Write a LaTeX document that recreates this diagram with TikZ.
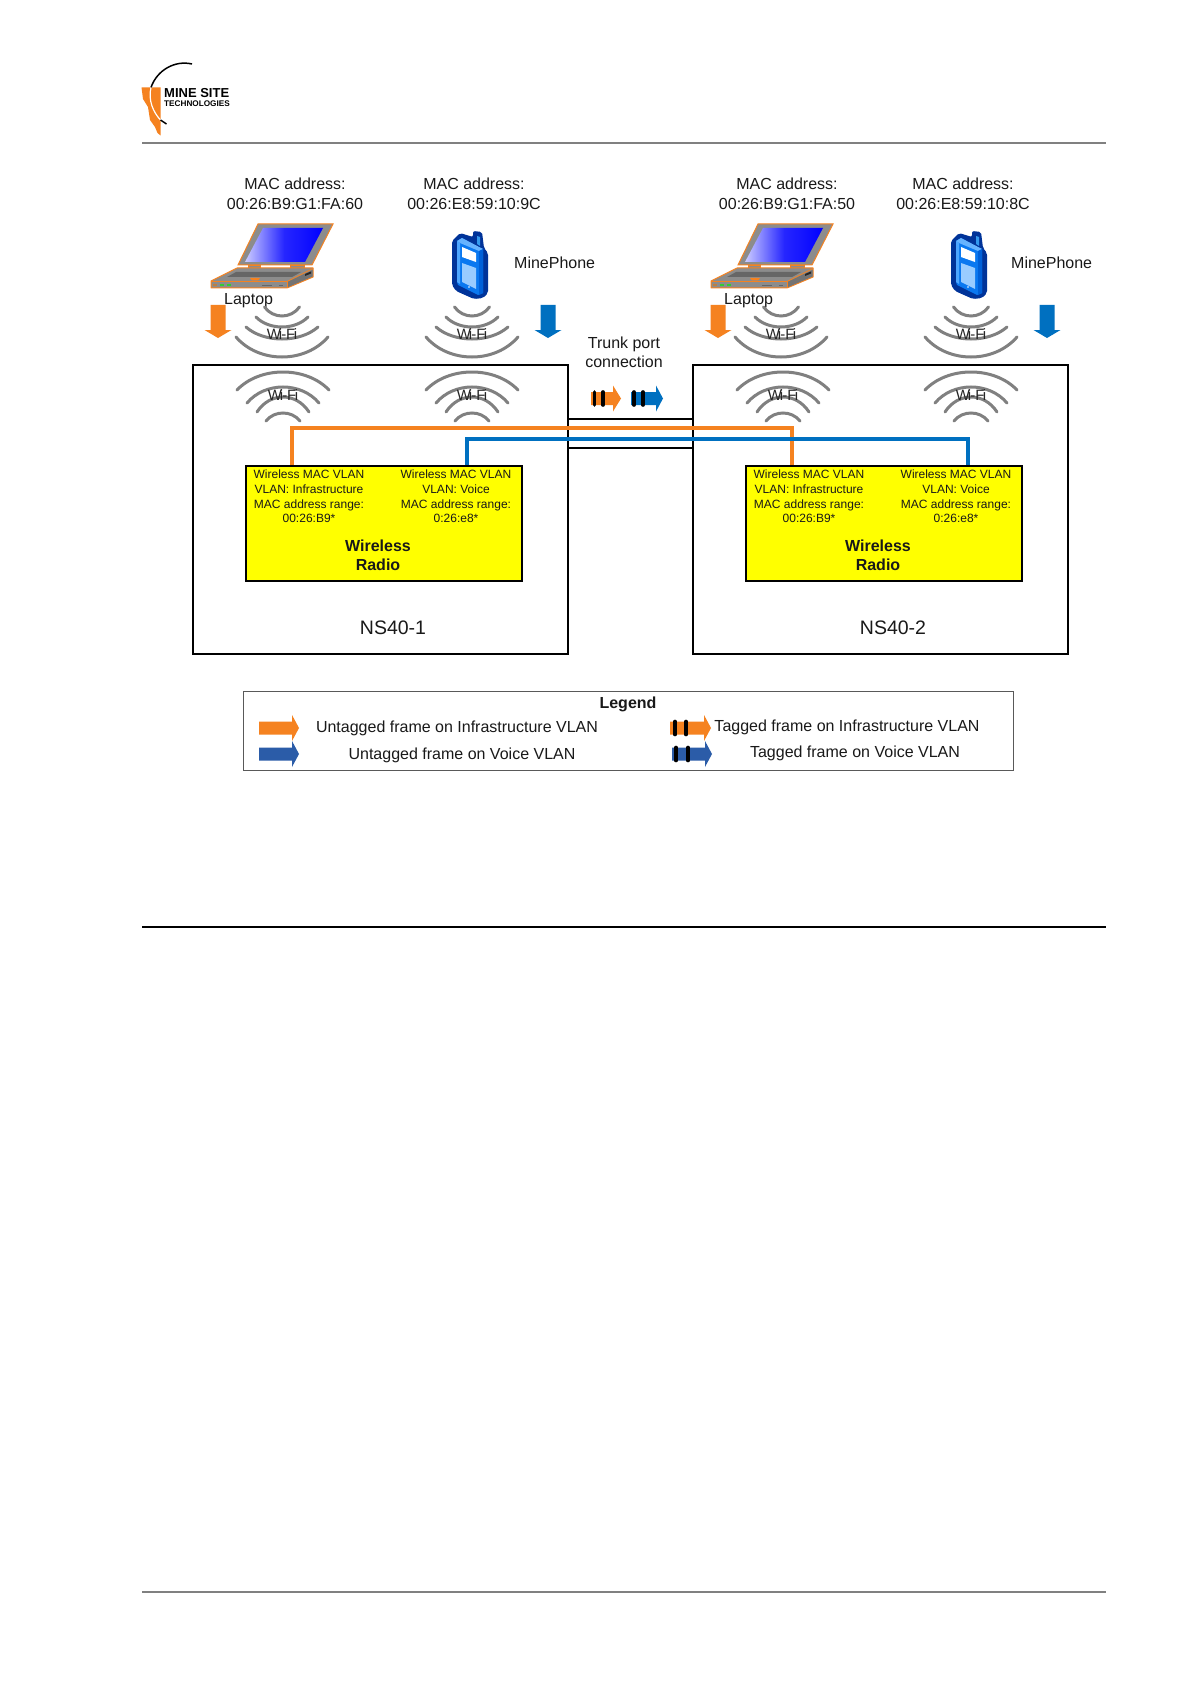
\documentclass[tikz,border=0pt]{standalone}
\usepackage{fontspec}
\setmainfont{Liberation Sans}
\definecolor{vorange}{HTML}{F58220}
\definecolor{vblue}{HTML}{0070C0}
\definecolor{lblue}{HTML}{2B5CA8}
\definecolor{wgrey}{HTML}{808080}
\definecolor{lapgrey}{HTML}{8C8C8C}
\definecolor{navy}{HTML}{003399}
\definecolor{ryellow}{HTML}{FFFF00}
\definecolor{phbody}{HTML}{0A78F0}
\definecolor{phtop}{HTML}{66B3FF}
\definecolor{phleft}{HTML}{4DA6FF}
\definecolor{phside}{HTML}{0060D8}
\definecolor{phlow}{HTML}{99CCFF}
\definecolor{phant}{HTML}{3399EE}
\newcommand{\fs}[2]{\fontsize{#1}{#2}\selectfont}
\newcommand{\wifitext}{W\kern-2pt i\kern-1pt -F\kern-1.5pt i}
\newcommand{\warc}[3]{\draw[wave] (-#1,#2) .. controls (-#1/2,#2+#3*4/3) and (#1/2,#2+#3*4/3) .. (#1,#2);}
\newcommand{\hframe}[5]{\fill[#5] (#1,#4-6.5) -- (#2,#4-6.5) -- (#2,#4-13) -- (#3,#4) -- (#2,#4+13) -- (#2,#4+6.5) -- (#1,#4+6.5) -- cycle;}
\newcommand{\vframe}[2]{\fill[#2] (#1-7.5,305) -- (#1+7.5,305) -- (#1+7.5,330) -- (#1+13.5,330) -- (#1,338) -- (#1-13.5,330) -- (#1-7.5,330) -- cycle;}
\newcommand{\tagbars}[3]{\draw[tagbar] (#1,#3-6.5) -- (#1,#3+6.5); \draw[tagbar] (#2,#3-6.5) -- (#2,#3+6.5);}
\tikzset{
  x=1pt,y=-1pt,
  devbox/.style={draw=black,line width=2.4,fill=white,anchor=north west,inner sep=0,minimum width=375,minimum height=289},
  radiobox/.style={draw=black,line width=1.6,fill=ryellow,anchor=north west,inner sep=0,minimum width=276,minimum height=115},
  lab/.style={inner sep=0,align=center,font=\fs{16}{19.5},text=black!90},
  small/.style={inner sep=0,align=center,font=\fs{12}{14.6},text=black!90},
  radiolab/.style={inner sep=0,align=center,font=\bfseries\fs{16}{19},text=black!90},
  leg/.style={inner sep=0,font=\fs{16}{18},text=black!90},
  wave/.style={draw=wgrey,line width=3,line cap=round},
  trunk/.style={draw=black,line width=1.4},
  vlanO/.style={draw=vorange,line width=3.6,line join=miter},
  vlanB/.style={draw=vblue,line width=3.6,line join=miter},
  tagbar/.style={draw=black,line width=3.6,line cap=round},
  wifitxt/.style={inner sep=0,font=\fs{15}{15},text=black!85},
  pics/wifidown/.style={code={
    \warc{17.5}{0}{9}
    \warc{26}{10}{10}
    \warc{36}{20}{12}
    \warc{46}{30}{20}
    \node[wifitxt] (-t) at (0,27) {\wifitext};
  }},
  pics/wifiup/.style={code={
    \warc{17}{0}{-8}
    \warc{26}{-9}{-15}
    \warc{36}{-18}{-16}
    \warc{46}{-31}{-18}
    \node[wifitxt] (-t) at (0,-26) {\wifitext};
  }},
  pics/laptop/.style={code={
    \filldraw[draw=vorange,fill=lapgrey,line width=1] (258,224) -- (333,224) -- (312,265) -- (238,265) -- cycle;
    \shade[left color=blue!20,right color=blue,middle color=blue!85] (263,228) -- (323,228) -- (305,262) -- (245,262) -- cycle;
    \filldraw[draw=vorange,fill=lapgrey,line width=.8] (248,265) rectangle (260,268);
    \filldraw[draw=vorange,fill=lapgrey,line width=.8] (290,265) rectangle (304,268);
    \filldraw[draw=vorange,fill=lapgrey,line width=1,line join=round] (211,281) -- (237,268) -- (313,268) -- (313,277) -- (287,288) -- (211,288) -- cycle;
    \fill[black!55] (287,282) -- (312.5,270) -- (312.5,276.5) -- (287,287.5) -- cycle;
    \draw[vorange,line width=.8] (211,281.5) -- (287,281.5) -- (313,268.5);
    \draw[vorange,line width=.8] (287,281.5) -- (287,288);
    \fill[black!60] (227,277) -- (236,272) -- (301,272) -- (292,277) -- cycle;
    \fill[vorange] (250,278) -- (260,278) -- (258,280.5) -- (252,280.5) -- cycle;
    \fill[black!85] (305,274) -- (311,271.5) -- (311,273.5) -- (305,276) -- cycle;
    \fill[orange!50!gray] (213,284.5) rectangle (217,286);
    \fill[green!60!gray] (220,284.5) rectangle (224,286);
    \fill[green!60!gray] (227,284.5) rectangle (231,286);
    \fill[black!60] (262,285) rectangle (272,285.8);
    \fill[black!60] (279,285) rectangle (283,285.8);
  }},
  pics/phone/.style={code={
    \fill[navy,rounded corners=2] (452,241) -- (460,233) -- (473,237) -- (473,231) -- (482,232) -- (484,248) -- (488,253) -- (488,293) -- (483,298) -- (474,299) -- (456,291) -- (452,285) -- cycle;
    \fill[phbody] (457,241) -- (462,238) -- (478,247) -- (483,249) -- (483,293) -- (478,295) -- (458,285) -- (457,282) -- cycle;
    \fill[phtop] (457,241) -- (462,238) -- (483,249) -- (479,251) -- (460,243) -- cycle;
    \fill[phleft] (457,241) -- (460,243) -- (460,284) -- (457,282) -- cycle;
    \fill[phside] (479,251) -- (483,249) -- (483,293) -- (479,295) -- cycle;
    \fill[white] (462,247) -- (476,253) -- (476,262) -- (462,257) -- cycle;
    \fill[phlow] (462,263) -- (476,268) -- (476,289) -- (462,282) -- cycle;
    \fill[white] (469,287) circle (.8);
    \fill[phant] (477,236) -- (480,237) -- (480,246) -- (477,244) -- cycle;
  }},
}
\begin{document}
\begin{tikzpicture}
\useasboundingbox (0,0) rectangle (1192,1685);
\fill[white] (0,0) rectangle (1192,1685);
% page rules
\coordinate (hl) at (142,143.5); \coordinate (hr) at (1106,143.5);
\draw[wgrey,line width=2] (hl) -- (hr);
\coordinate (ml) at (142,927); \coordinate (mr) at (1106,927);
\draw[black,line width=1.8] (ml) -- (mr);
\coordinate (fl) at (142,1592); \coordinate (fr) at (1106,1592);
\draw[wgrey,line width=1.8] (fl) -- (fr);
% logo
\fill[vorange] (141.5,87.5) -- (160.5,87.5) -- (160.5,135.5) -- (157.5,133) -- (155,127) -- (150,120) -- (148,107) -- (143,99) -- cycle;
\draw[black,line width=1.5] (192,64) .. controls (175,60) and (157,70) .. (151,87.5);
\draw[white,line width=1.2] (151,87.5) .. controls (148,100) and (153,112) .. (160.5,120);
\draw[black,line width=1.5] (160.5,120) -- (166.5,124);
\node[inner sep=0,anchor=west,font=\bfseries\fs{13}{13}] (logoa) at (164,93.5) {MINE SITE};
\node[inner sep=0,anchor=west,font=\bfseries\fs{8.2}{8.2}] (logob) at (164,103.5) {TECHNOLOGIES};
% device boxes
\node[devbox] (ns1) at (192,364) {};
\node[devbox] (ns2) at (692,364) {};
% trunk
\coordinate (ta) at (567,419); \coordinate (tb) at (692,419);
\coordinate (tc) at (567,448); \coordinate (td) at (692,448);
\draw[trunk] (ta) -- (tb);
\draw[trunk] (tc) -- (td);
% radios
\node[radiobox] (r1) at (245,465) {};
\node[radiobox] (r2) at (745,465) {};
% VLAN links
\coordinate (oa) at (292,465); \coordinate (ob) at (792,465);
\coordinate (ba) at (467,465); \coordinate (bb) at (968,465);
\draw[vlanO] (oa) -- (292,428) -- (792,428) -- (ob);
\draw[vlanB] (ba) -- (467,439) -- (968,439) -- (bb);
% MAC labels
\node[lab] (m1) at (295,194) {MAC address:\\00:26:B9:G1:FA:60};
\node[lab] (m2) at (474,194) {MAC address:\\00:26:E8:59:10:9C};
\node[lab] (m3) at (787,194) {MAC address:\\00:26:B9:G1:FA:50};
\node[lab] (m4) at (963,194) {MAC address:\\00:26:E8:59:10:8C};
% devices
\pic (lap1) at (0,0) {laptop};
\pic (lap2) at (500,0) {laptop};
\pic (ph1) at (0,0) {phone};
\pic (ph2) at (499,0) {phone};
\node[lab,anchor=west] (lt1) at (224,301) {Laptop};
\node[lab,anchor=west] (lt2) at (724,301) {Laptop};
\node[lab,anchor=west] (mp1) at (514,263) {MinePhone};
\node[lab,anchor=west] (mp2) at (1011,263) {MinePhone};
% wifi
\pic (w1) at (282,307) {wifidown};
\pic (w2) at (472,307) {wifidown};
\pic (w3) at (781,307) {wifidown};
\pic (w4) at (971,307) {wifidown};
\pic (u1) at (283,421) {wifiup};
\pic (u2) at (472,421) {wifiup};
\pic (u3) at (783,421) {wifiup};
\pic (u4) at (971,421) {wifiup};
% down arrows
\vframe{218}{vorange}
\vframe{548}{vblue}
\vframe{718}{vorange}
\vframe{1047}{vblue}
% trunk label and arrows
\node[lab] (trk) at (624,352.5) {Trunk port\\connection};
\hframe{591}{613}{621}{398.5}{vorange}
\tagbars{594.5}{603}{398.5}
\hframe{631}{656}{663}{398.5}{vblue}
\tagbars{634}{643}{398.5}
% radio text
\node[small] (t1) at (309,496.5) {Wireless MAC VLAN\\VLAN: Infrastructure\\MAC address range:\\00:26:B9*};
\node[small] (t2) at (456,496.5) {Wireless MAC VLAN\\VLAN: Voice\\MAC address range:\\0:26:e8*};
\node[radiolab] (t3) at (378,555) {Wireless\\Radio};
\node[small] (t4) at (809,496.5) {Wireless MAC VLAN\\VLAN: Infrastructure\\MAC address range:\\00:26:B9*};
\node[small] (t5) at (956,496.5) {Wireless MAC VLAN\\VLAN: Voice\\MAC address range:\\0:26:e8*};
\node[radiolab] (t6) at (878,555) {Wireless\\Radio};
\node[inner sep=0,font=\fs{19.5}{20},text=black!90] (n1) at (393,628) {NS40-1};
\node[inner sep=0,font=\fs{19.5}{20},text=black!90] (n2) at (893,628) {NS40-2};
% legend
\node[draw=black!65,line width=1.2,anchor=north west,inner sep=0,minimum width=770,minimum height=79] (lg) at (243,691) {};
\node[inner sep=0,font=\bfseries\fs{16}{16},text=black!90] (lgt) at (628,704) {Legend};
\hframe{259}{292}{299}{728}{vorange}
\hframe{259}{292}{299}{754}{lblue}
\hframe{670}{704}{711}{728}{vorange}
\tagbars{675}{686}{728}
\hframe{672}{705}{712}{754}{lblue}
\tagbars{676}{688}{754}
\node[leg] (l1) at (457,728) {Untagged frame on Infrastructure VLAN};
\node[leg] (l2) at (462,755) {Untagged frame on Voice VLAN};
\node[leg] (l3) at (847,727.5) {Tagged frame on Infrastructure VLAN};
\node[leg] (l4) at (855,753) {Tagged frame on Voice VLAN};
\end{tikzpicture}
\end{document}
